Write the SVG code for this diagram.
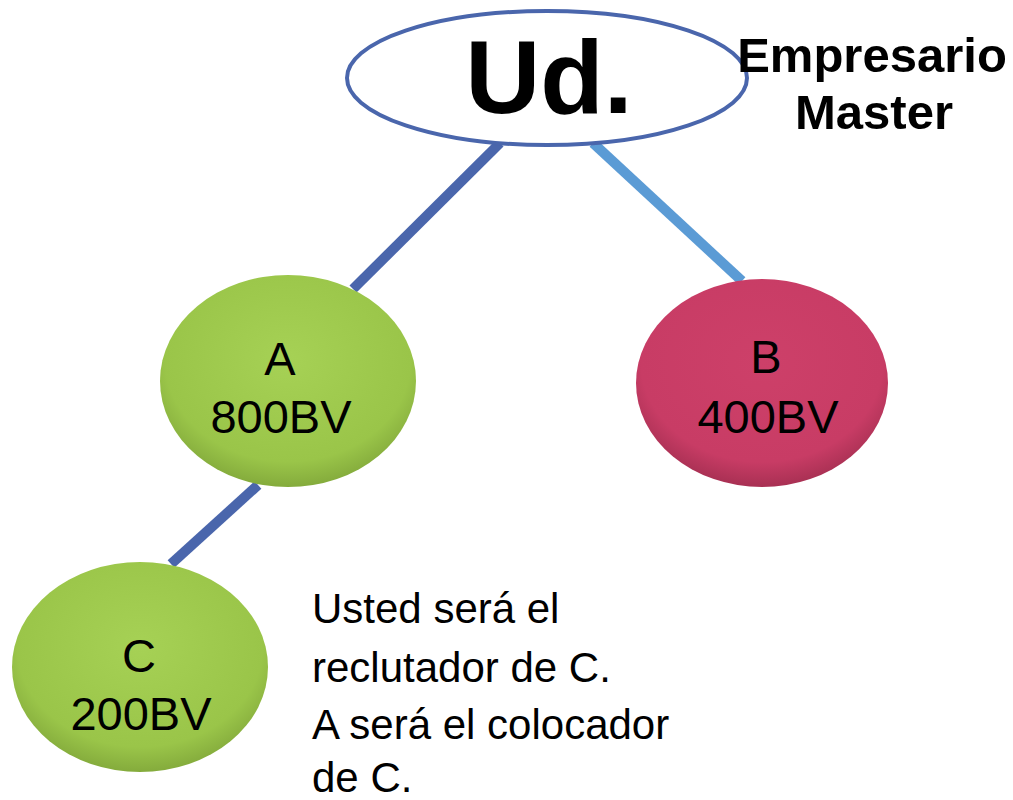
<svg xmlns="http://www.w3.org/2000/svg" width="1013" height="800" viewBox="0 0 1013 800">
<style>
.t{font-family:"Liberation Sans",Arial,sans-serif;fill:#000}
.lbl{font-size:47px;text-anchor:middle}
.para{font-size:42px}
.b{font-weight:bold}
.conn{stroke-width:10;stroke-linecap:butt;fill:none}
</style>
<defs>
<radialGradient id="gGreen" cx="50%" cy="40%" r="60%">
<stop offset="0" stop-color="#a6d155"/>
<stop offset="0.8" stop-color="#9ac549"/>
<stop offset="1" stop-color="#84ab3c"/>
</radialGradient>
<radialGradient id="gRed" cx="50%" cy="40%" r="60%">
<stop offset="0" stop-color="#cd4069"/>
<stop offset="0.8" stop-color="#c83c65"/>
<stop offset="1" stop-color="#a83053"/>
</radialGradient>
</defs>
<rect width="1013" height="800" fill="#fff"/>
<g id="connectors">
<line class="conn" x1="500" y1="143" x2="353" y2="289" stroke="#4a66ac"/>
<line class="conn" x1="593" y1="143" x2="742" y2="281" stroke="#5b9bd5"/>
<line class="conn" x1="258" y1="485" x2="171" y2="564" stroke="#4a66ac"/>
</g>
<g id="node-ud">
<ellipse cx="547" cy="78" rx="200" ry="67" fill="#fff" stroke="#4a66ac" stroke-width="4"/>
<text class="t b" x="549" y="113" font-size="104" text-anchor="middle">Ud.</text>
</g>
<g id="label-empresario">
<text class="t b" x="872" y="72" font-size="49" text-anchor="middle">Empresario</text>
<text class="t b" x="874" y="129" font-size="49" text-anchor="middle">Master</text>
</g>
<g id="node-a">
<ellipse cx="288" cy="381" rx="128" ry="106" fill="url(#gGreen)"/>
<text class="t lbl" x="280" y="375">A</text>
<text class="t lbl" x="281" y="433">800BV</text>
</g>
<g id="node-b">
<ellipse cx="762" cy="383" rx="126" ry="104" fill="url(#gRed)"/>
<text class="t lbl" x="766" y="373">B</text>
<text class="t lbl" x="768" y="433">400BV</text>
</g>
<g id="node-c">
<ellipse cx="140" cy="667" rx="128" ry="105" fill="url(#gGreen)"/>
<text class="t lbl" x="139" y="672">C</text>
<text class="t lbl" x="141" y="730">200BV</text>
</g>
<g id="note">
<text class="t para" x="312" y="623">Usted será el</text>
<text class="t para" x="312" y="682">reclutador de C.</text>
<text class="t para" x="312" y="739">A será el colocador</text>
<text class="t para" x="312" y="792">de C.</text>
</g>
</svg>
